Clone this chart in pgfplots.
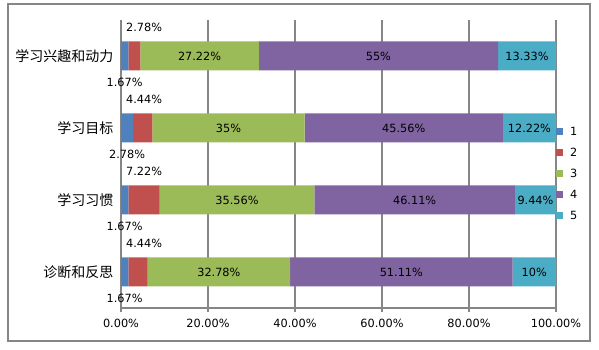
\documentclass[border=0pt]{standalone}
\usepackage{pgfplots}
\usepackage{pgfplotstable}
\pgfplotsset{compat=1.18}
\usepackage{fontspec}
\setmainfont{DejaVu Sans}
\newfontfamily\cjk{Noto Sans CJK SC}
\definecolor{c1}{HTML}{4F81BD}
\definecolor{c2}{HTML}{C0504D}
\definecolor{c3}{HTML}{9BBB59}
\definecolor{c4}{HTML}{8064A2}
\definecolor{c5}{HTML}{4BACC6}
\definecolor{axgray}{HTML}{868686}
\pgfplotstableread{
cat v1 v2 v3 v4 v5
3 1.67 2.78 27.22 55 13.33
2 2.78 4.44 35 45.56 12.22
1 1.67 7.22 35.56 46.11 9.44
0 1.67 4.44 32.78 51.11 10
}\datatable
\newcommand{\numfont}{\fontsize{11.3}{13}\selectfont}
\pgfplotsset{
  sqleg/.style={legend image code/.code={\fill[##1] (0pt,-3.5pt) rectangle (7pt,3.5pt);}},
  common/.style={scale only axis, width=435pt, height=288pt,
    xmin=0, xmax=100, ymin=-0.5, ymax=3.5},
}
\begin{document}
\begin{tikzpicture}
\useasboundingbox (0,0) rectangle (599pt,350pt);
\draw[axgray, line width=1.5pt] (8pt,9pt) rectangle (590pt,346pt);
\begin{axis}[common,
  at={(121pt,42pt)}, anchor=south west,
  xbar stacked, bar width=29pt,
  axis x line*=bottom, axis y line*=left,
  axis line style={axgray, line width=1.2pt},
  xtick={0,20,40,60,80,100},
  xticklabels={0.00\%,20.00\%,40.00\%,60.00\%,80.00\%,100.00\%},
  xticklabel style={font=\numfont, text=black, yshift=-3.5pt},
  xmajorgrids, grid style={axgray, line width=1.2pt},
  tick align=outside, major tick length=4pt,
  tick style={axgray, line width=1.2pt},
  ytick={0,1,2,3},
  yticklabels={诊断和反思,学习习惯,学习目标,学习兴趣和动力},
  yticklabel style={font=\cjk\fontsize{14}{16}\selectfont, text=black},
  y tick style={draw=none},
  extra y ticks={-0.5,0.5,1.5,2.5,3.5},
  extra y tick labels={},
  extra y tick style={grid=none, tick style={draw=axgray, line width=1.2pt}},
  legend style={draw=none, fill=none, at={(1,0.632)}, anchor=north west,
    inner sep=0pt, font=\numfont, row sep=11pt, /tikz/column sep=6pt,
    nodes={inner sep=1pt, text height=8pt, text depth=0pt}},
  legend cell align=left,
]
\addplot[fill=c1, draw=none, sqleg] table[x=v1, y=cat] \datatable;
\addplot[fill=c2, draw=none, sqleg] table[x=v2, y=cat] \datatable;
\addplot[fill=c3, draw=none, sqleg] table[x=v3, y=cat] \datatable;
\addplot[fill=c4, draw=none, sqleg] table[x=v4, y=cat] \datatable;
\addplot[fill=c5, draw=none, sqleg] table[x=v5, y=cat] \datatable;
\legend{1,2,3,4,5}
\end{axis}
\begin{axis}[common,
  at={(121pt,42pt)}, anchor=south west, hide axis,
  point meta=explicit symbolic,
  nodes near coords={\pgfplotspointmeta\%},
  every node near coord/.append style={font=\numfont, text=black},
]
\addplot[draw=none, mark=none, nodes near coords style={anchor=north, yshift=-4pt}]
  table[x expr=\thisrow{v1}/2, y expr=\thisrow{cat}-0.2, meta=v1] \datatable;
\addplot[draw=none, mark=none, nodes near coords style={anchor=south, yshift=6pt}]
  table[x expr=5.3, y expr=\thisrow{cat}+0.2, meta=v2] \datatable;
\addplot[draw=none, mark=none, nodes near coords style={anchor=center}]
  table[x expr=\thisrow{v1}+\thisrow{v2}+\thisrow{v3}/2, y=cat, meta=v3] \datatable;
\addplot[draw=none, mark=none, nodes near coords style={anchor=center}]
  table[x expr=\thisrow{v1}+\thisrow{v2}+\thisrow{v3}+\thisrow{v4}/2, y=cat, meta=v4] \datatable;
\addplot[draw=none, mark=none, nodes near coords style={anchor=center}]
  table[x expr=100-\thisrow{v5}/2, y=cat, meta=v5] \datatable;
\end{axis}
\end{tikzpicture}
\end{document}
